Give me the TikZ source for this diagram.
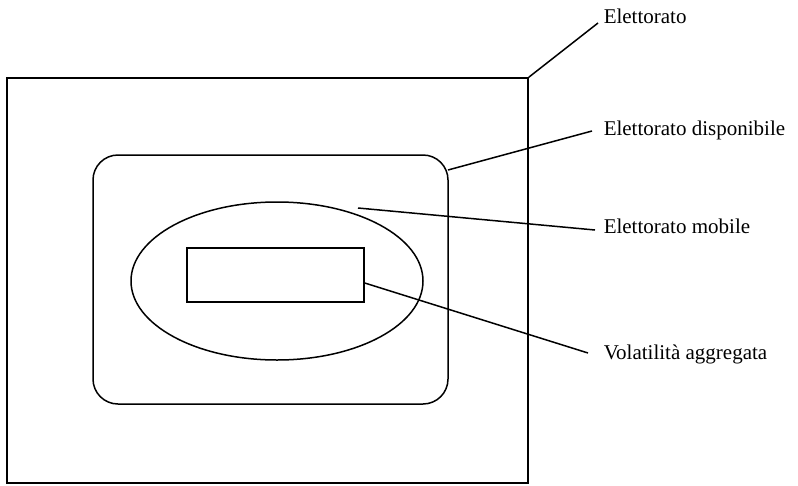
\documentclass[tikz,border=0pt]{standalone}
\usepackage{fontspec}
\setmainfont{Liberation Serif}
\usetikzlibrary{shapes.geometric}
\begin{document}
\begin{tikzpicture}[x=1pt,y=-1pt,line width=1.5pt,
  lbl/.style={anchor=west,inner sep=0pt,font=\fontsize{21}{24}\selectfont},
  lead/.style={line width=1.5pt}]
\useasboundingbox (0,0) rectangle (798,485);
\node[draw,rectangle,minimum width=521pt,minimum height=405pt,inner sep=0pt] (outer) at (267.5,280.5) {};
\node[draw,rectangle,rounded corners=25pt,minimum width=355pt,minimum height=249pt,inner sep=0pt] (avail) at (270.5,279.5) {};
\node[draw,ellipse,minimum width=292pt,minimum height=158pt,inner sep=0pt] (mob) at (277,281) {};
\node[draw,rectangle,minimum width=177pt,minimum height=54pt,inner sep=0pt] (vol) at (275.5,275) {};
\node[lbl] (t1) at (603,16) {Elettorato};
\node[lbl] (t2) at (603,130) {Elettorato disponibile};
\node[lbl] (t3) at (603,226) {Elettorato mobile};
\node[lbl] (t4) at (603,354) {Volatilità aggregata};
\coordinate (e1) at (598,23);
\coordinate (e2) at (592,131);
\coordinate (e3) at (595,230);
\coordinate (e4) at (588,353);
\draw[lead] (outer.north east) -- (e1);
\draw[lead] (448,170) -- (e2);
\draw[lead] (358,208) -- (e3);
\draw[lead] (vol.east |- 0,283) -- (e4);
\end{tikzpicture}
\end{document}
